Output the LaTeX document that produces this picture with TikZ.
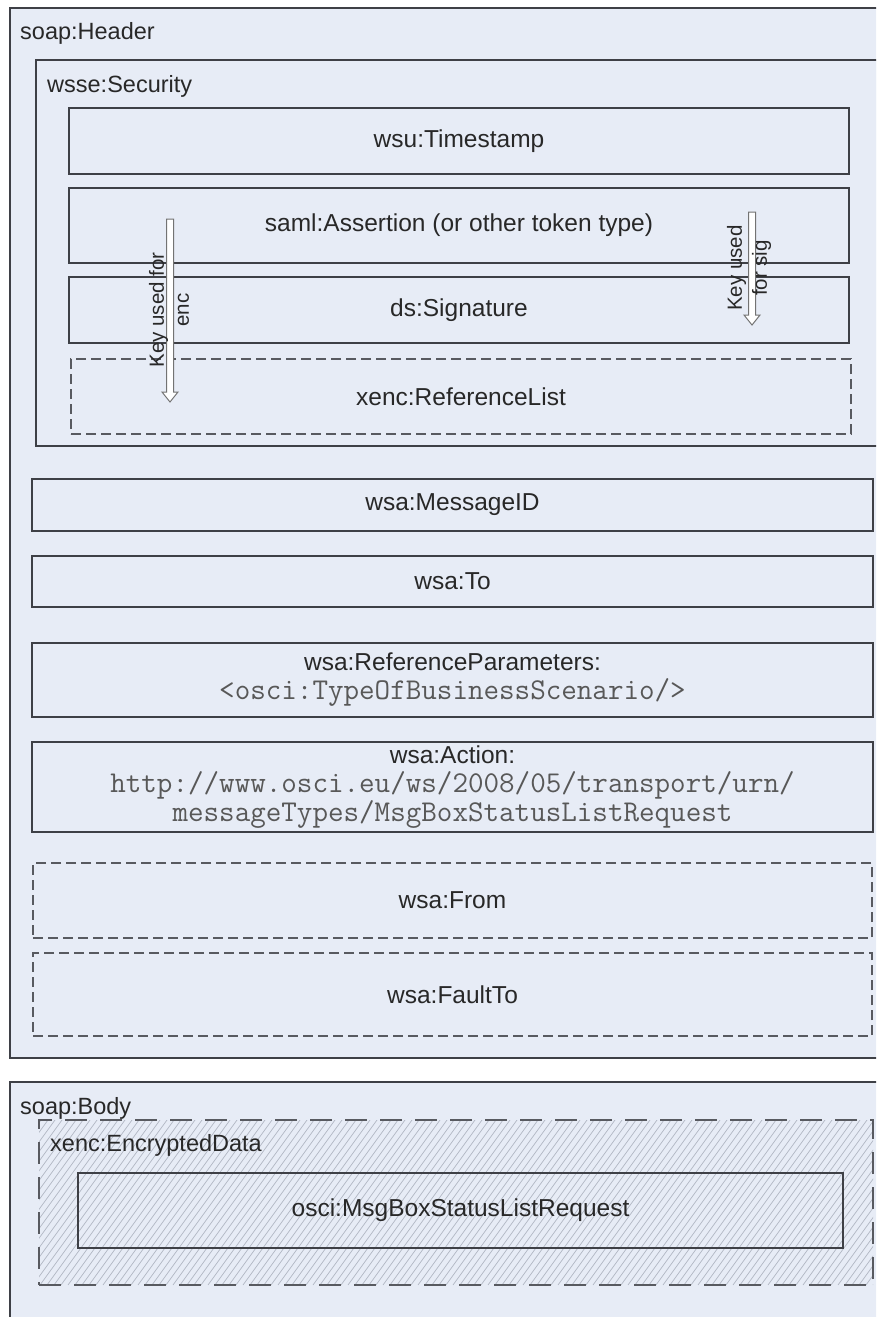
\documentclass[tikz,border=0pt]{standalone}
\usepackage{fontspec}
\setmainfont{Liberation Sans}
\setmonofont{Latin Modern Mono}

\definecolor{panel}{RGB}{231,236,246}
\definecolor{edge}{RGB}{62,64,70}
\definecolor{dashedge}{RGB}{88,90,96}
\definecolor{hatch}{RGB}{178,184,196}
\definecolor{codegray}{RGB}{88,88,88}
\definecolor{inkgray}{RGB}{40,40,40}

\newcommand{\codefont}{\ttfamily\fontsize{30.2}{29}\selectfont\color{codegray}}
% hollow key arrow pointing down: shaft half-width 3.5, head half-width 8, head length 10
\newcommand{\keyshape}[2]{%
  \draw[keyarrow, shift={(#1)}] (-3.5,0) -- (3.5,0) -- (3.5,#2-10) -- (8,#2-10)
    -- (0,#2) -- (-8,#2-10) -- (-3.5,#2-10) -- cycle;}

\begin{document}
\begin{tikzpicture}[x=1pt,y=-1pt,
  container/.style={draw=edge, line width=1.7pt, fill=panel, inner sep=0pt},
  title/.style={anchor=base west, inner sep=0pt, text=inkgray,
                font=\fontsize{23.5}{28}\selectfont},
  box/.style={draw=edge, line width=1.6pt, fill=panel, inner sep=0pt,
              align=center, text=inkgray, font=\fontsize{24.5}{29}\selectfont},
  optbox/.style={box, draw=dashedge, dash pattern=on 10pt off 5pt},
  keyarrow/.style={draw=black!55, fill=white, line width=1pt, line join=miter},
  keylabel/.style={rotate=90, align=center, inner sep=0pt, text=inkgray,
                   font=\fontsize{20.5}{25}\selectfont},
]
\useasboundingbox (0,0) rectangle (876,1317);
\clip (0,0) rectangle (876,1317);

% ---------- soap:Header ----------
\node[container, minimum width=872pt, minimum height=1050pt] (header) at (446,533) {};
\node[title] (headertitle) at (20,39) {soap:Header};

% wsse:Security block
\node[container, minimum width=846pt, minimum height=386pt] (security) at (459,253) {};
\node[title] (securitytitle) at (47,92) {wsse:Security};

\node[box, minimum width=780pt, minimum height=66pt] (timestamp) at (459,141) {wsu:Timestamp};
\node[box, minimum width=780pt, minimum height=75pt] (assertion) at (459,225.5) {saml:Assertion (or other token type)};
\node[box, minimum width=780pt, minimum height=66pt] (signature) at (459,310) {ds:Signature};
\node[optbox, minimum width=780pt, minimum height=75pt] (reflist) at (461,396.5) {xenc:ReferenceList};

% key usage arrows
\coordinate (encstart) at (170,219);
\coordinate (sigstart) at (752,212);
\keyshape{encstart}{183}
\keyshape{sigstart}{113}
\node[keylabel] (enclabel) at (169,310) {Key used for\\enc};
\node[keylabel] (siglabel) at (749,268) {Key used\\for sig};

% WS-Addressing headers
\node[box, minimum width=841pt, minimum height=52pt] (messageid) at (452.5,505) {wsa:MessageID};
\node[box, minimum width=841pt, minimum height=51pt] (to) at (452.5,581.5) {wsa:To};
\node[box, minimum width=841pt, minimum height=74pt] (refparams) at (452.5,680)
  {wsa:ReferenceParameters:\\{\codefont <osci:TypeOfBusinessScenario/>}};
\node[box, minimum width=841pt, minimum height=90pt] (action) at (452.5,787)
  {wsa:Action:\\{\codefont http://www.osci.eu/ws/2008/05/transport/urn/}\\{\codefont messageTypes/MsgBoxStatusListRequest}};
\node[optbox, minimum width=839pt, minimum height=75pt] (from) at (452.5,900.5) {wsa:From};
\node[optbox, minimum width=839pt, minimum height=83pt] (faultto) at (452.5,994.5) {wsa:FaultTo};

% ---------- soap:Body ----------
\node[container, minimum width=872pt, minimum height=260pt] (body) at (446,1212) {};
\node[title] (bodytitle) at (20,1114) {soap:Body};

% encrypted payload: hatched area with dashed outline
\fill[panel] (39,1120) rectangle (873,1285);
\begin{scope}
  \clip (39,1120) rectangle (873,1285);
  \foreach \i in {-100,-93,...,880}
    \draw[hatch, line width=0.7pt] (\i,1285) -- (\i+120,1120);
\end{scope}
\node[draw=dashedge, line width=1.7pt, dash pattern=on 22pt off 13pt,
      minimum width=834pt, minimum height=165pt, inner sep=0pt] (encdata) at (456,1202.5) {};
\node[title] (encdatatitle) at (50,1151) {xenc:EncryptedData};
\node[draw=edge, line width=1.6pt, minimum width=765pt, minimum height=75pt,
      inner sep=0pt, text=inkgray, font=\fontsize{24.5}{29}\selectfont] (request) at (460.5,1210.5)
  {osci:MsgBoxStatusListRequest};
\end{tikzpicture}
\end{document}
